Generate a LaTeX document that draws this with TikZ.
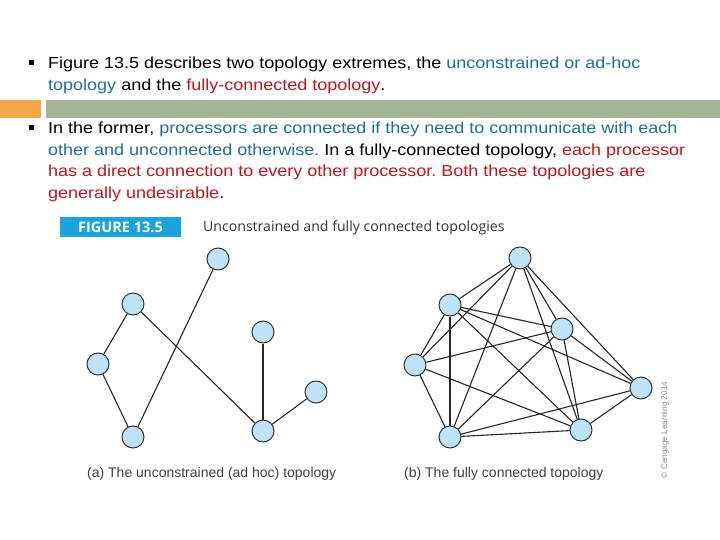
\documentclass[tikz,border=0pt]{standalone}
\usepackage{fontspec}
\setmainfont{Liberation Sans}
\newfontfamily\capfont{Open Sans}
\newfontfamily\parafont[FakeStretch=1.125]{Liberation Sans}
\definecolor{tblue}{HTML}{1F6E9E}
\definecolor{tred}{HTML}{C0161E}
\definecolor{barorange}{HTML}{F5A54A}
\definecolor{bargreen}{HTML}{A3B594}
\definecolor{figblue}{HTML}{1DA3DC}
\definecolor{nodefill}{HTML}{BEE3F6}
\definecolor{capgray}{HTML}{333333}
\tikzset{
  pc/.style={circle,draw=black!80,fill=nodefill,line width=1pt,minimum size=22pt,inner sep=0pt},
  link/.style={line width=1.1pt,black!85},
  para/.style={anchor=base west,inner sep=0pt,font=\parafont\fontsize{16}{19}\selectfont},
  bul/.style={fill=black,draw=none,minimum size=5pt,inner sep=0pt},
  sub/.style={anchor=base west,inner sep=0pt,text=black!75,font=\fontsize{14}{16}\selectfont}
}
\frenchspacing
\begin{document}
\begin{tikzpicture}[x=1pt,y=-1pt]
\useasboundingbox (0,0) rectangle (720,540);
% bars
\fill[barorange] (0,100) rectangle (41,118);
\fill[bargreen] (46,100) rectangle (720,118);
% bullets
\node[bul] (b1) at (31,63) {};
\node[bul] (b2) at (31,128) {};
% text
\node[para] (l1) at (48,69) {Figure 13.5 describes two topology extremes, the \textcolor{tblue}{unconstrained or ad-hoc}};
\node[para] (l2) at (48,91) {\textcolor{tblue}{topology} and the \textcolor{tred}{fully-connected topology}.};
\node[para] (l3) at (48,134) {In the former, \textcolor{tblue}{processors are connected if they need to communicate with each}};
\node[para] (l4) at (48,156) {\textcolor{tblue}{other and unconnected otherwise.} In a fully-connected topology, \textcolor{tred}{each processor}};
\node[para] (l5) at (48,177) {\textcolor{tred}{has a direct connection to every other processor. Both these topologies are}};
\node[para] (l6) at (48,199) {\textcolor{tred}{generally undesirable}.};
% figure label
\node[fill=figblue,text=white,minimum width=121pt,minimum height=20pt,inner sep=0pt,font=\capfont\bfseries\fontsize{14.5}{16}\selectfont] (fig) at (120.5,227) {FIGURE 13.5};
\node[anchor=base west,inner sep=0pt,text=capgray,font=\capfont\fontsize{14.1}{16}\selectfont] (cap) at (203,232) {Unconstrained and fully connected topologies};
% (a) ad hoc
\node[pc] (a1) at (218,259) {};
\node[pc] (a2) at (133,304) {};
\node[pc] (a3) at (98,364) {};
\node[pc] (a4) at (133,437) {};
\node[pc] (a5) at (263,332) {};
\node[pc] (a6) at (316,392) {};
\node[pc] (a7) at (263,431) {};
\draw[link] (a2) -- (a3);
\draw[link] (a3) -- (a4);
\draw[link] (a4) -- (a1);
\draw[link] (a2) -- (a7);
\draw[link] (a5) -- (a7);
\draw[link] (a7) -- (a6);
% (b) fully connected
\node[pc] (b1n) at (520,258) {};
\node[pc] (b2n) at (450,305) {};
\node[pc] (b3n) at (415,365) {};
\node[pc] (b4n) at (450,437) {};
\node[pc] (b5n) at (562,329) {};
\node[pc] (b6n) at (641,388) {};
\node[pc] (b7n) at (581,430) {};
\foreach \u/\v in {b1n/b2n,b1n/b3n,b1n/b4n,b1n/b5n,b1n/b6n,b1n/b7n,
                   b2n/b3n,b2n/b4n,b2n/b5n,b2n/b6n,b2n/b7n,
                   b3n/b4n,b3n/b5n,b3n/b7n,
                   b4n/b5n,b4n/b6n,b4n/b7n,
                   b5n/b6n,b5n/b7n,b6n/b7n}
  \draw[link] (\u) -- (\v);
% subcaptions
\node[sub] (sa) at (87,477) {(a) The unconstrained (ad hoc) topology};
\node[sub] (sb) at (404,477) {(b) The fully connected topology};
\node[rotate=90,inner sep=0pt,text=black!45,font=\fontsize{8.2}{10}\selectfont] (copy) at (665,430) {\textcopyright\ Cengage Learning 2014};
\end{tikzpicture}
\end{document}
